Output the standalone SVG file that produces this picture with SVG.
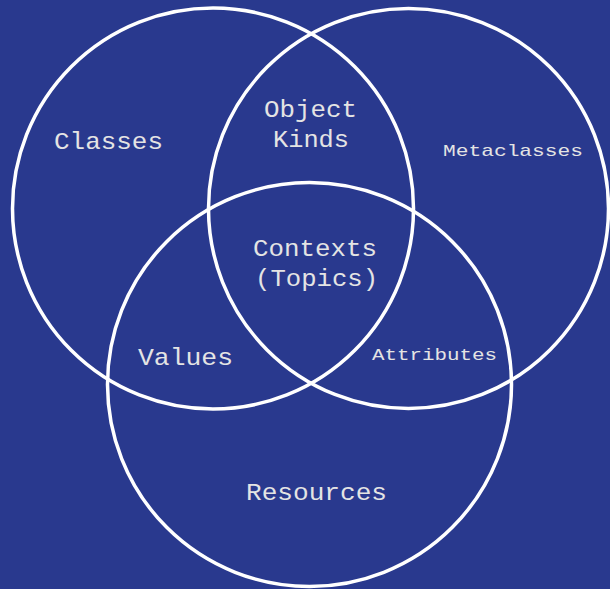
<svg xmlns="http://www.w3.org/2000/svg" width="610" height="589" viewBox="0 0 610 589">
  <style>
    .ring { fill: none; stroke: #ffffff; stroke-width: 3.5; }
    .lbl { fill: #e4e4e4; font-family: "Courier New", "Nimbus Mono PS", "Nimbus Mono L", FreeMono, Courier, "Liberation Mono", monospace; text-anchor: middle; }
    .big { font-size: 24px; }
    .small { font-size: 17px; }
  </style>
  <rect width="610" height="589" fill="#29398e"/>
  <g id="sets">
    <circle id="set-left" class="ring" cx="213" cy="208.5" r="200.5"/>
    <circle id="set-right" class="ring" cx="408.5" cy="208.5" r="200"/>
    <circle id="set-bottom" class="ring" cx="309.5" cy="384.5" r="202"/>
  </g>
  <g id="labels">
    <text class="lbl big" x="108.5" y="149" textLength="109" lengthAdjust="spacingAndGlyphs">Classes</text>
    <text class="lbl big" x="310.5" y="117" textLength="93" lengthAdjust="spacingAndGlyphs">Object</text>
    <text class="lbl big" x="311" y="147" textLength="76" lengthAdjust="spacingAndGlyphs">Kinds</text>
    <text class="lbl small" x="513" y="156" textLength="140" lengthAdjust="spacingAndGlyphs">Metaclasses</text>
    <text class="lbl big" x="315" y="256" textLength="124" lengthAdjust="spacingAndGlyphs">Contexts</text>
    <text class="lbl big" x="316.5" y="286" textLength="123" lengthAdjust="spacingAndGlyphs">(Topics)</text>
    <text class="lbl big" x="185.5" y="365" textLength="95" lengthAdjust="spacingAndGlyphs">Values</text>
    <text class="lbl small" x="434.5" y="360" textLength="125" lengthAdjust="spacingAndGlyphs">Attributes</text>
    <text class="lbl big" x="316.5" y="500" textLength="141" lengthAdjust="spacingAndGlyphs">Resources</text>
  </g>
</svg>
